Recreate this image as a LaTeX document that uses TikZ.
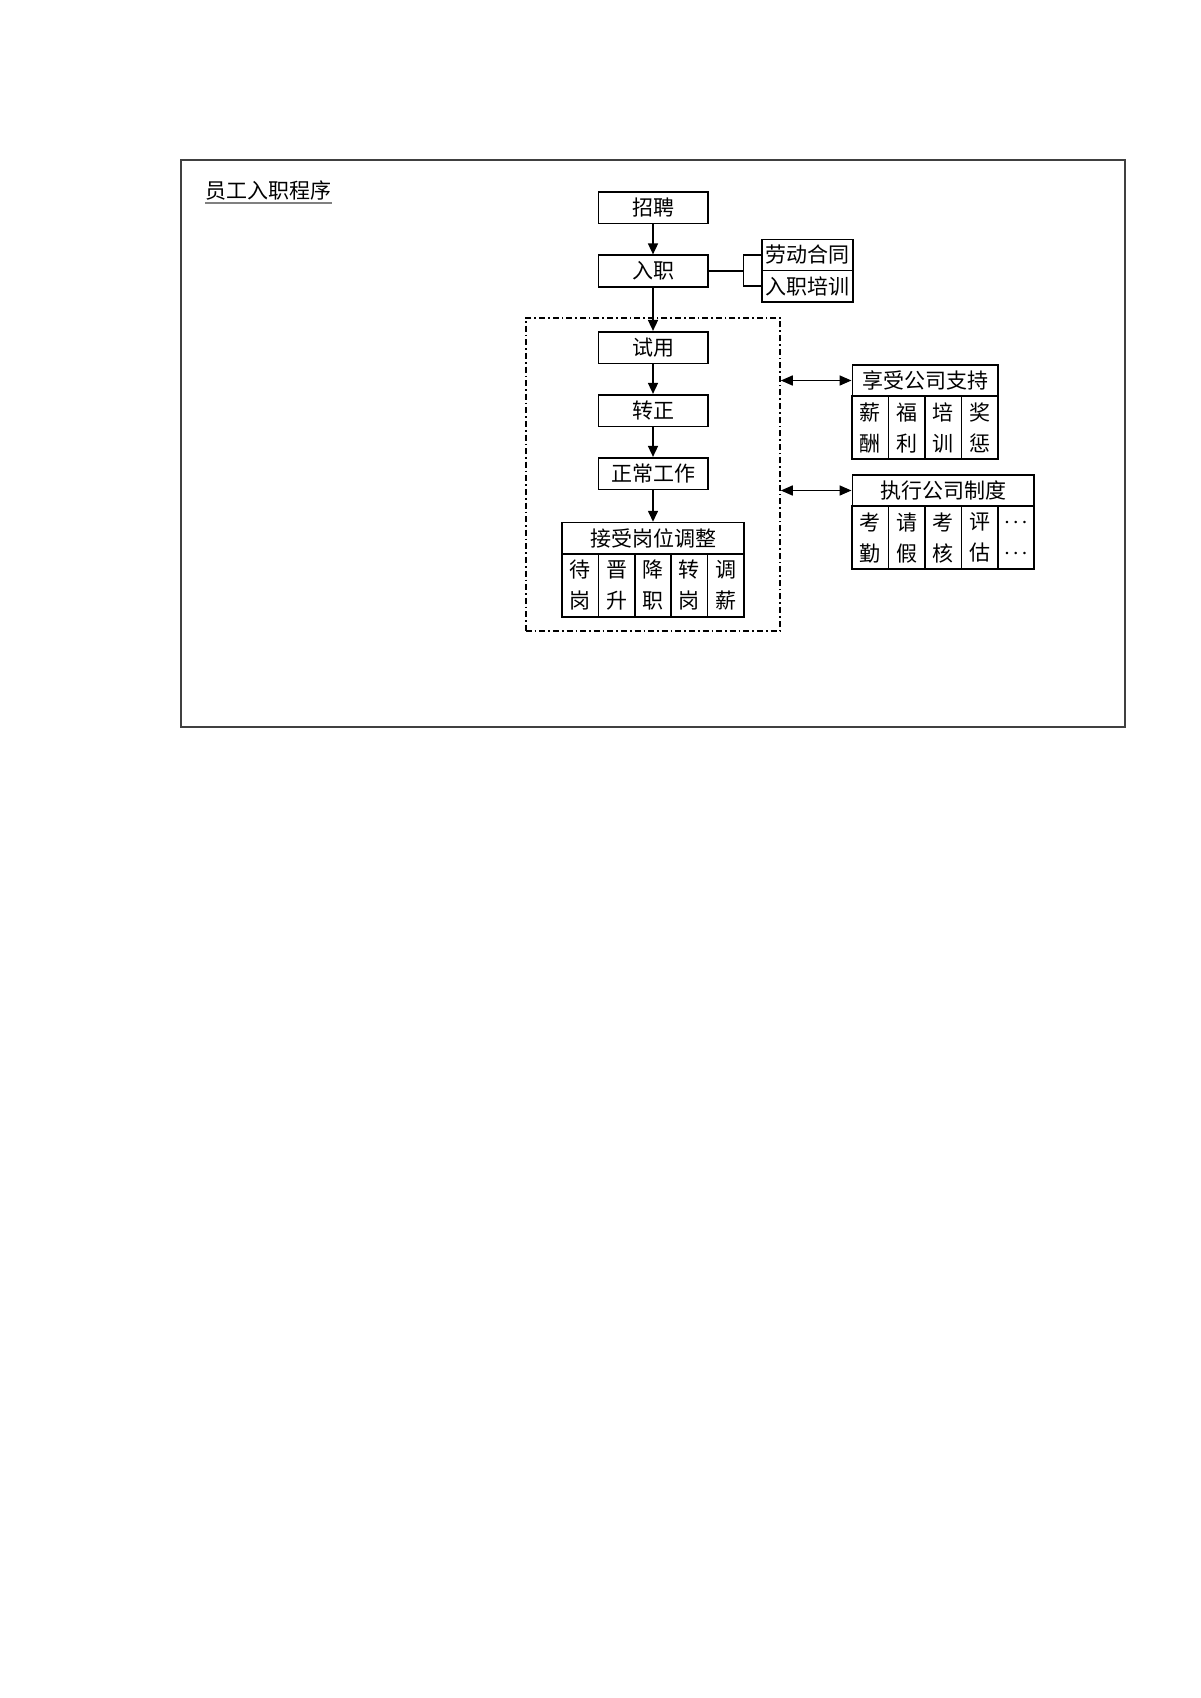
\documentclass[tikz,border=0pt]{standalone}
\usepackage{fontspec}
\newfontfamily\cjk{Noto Sans CJK SC}
\usetikzlibrary{arrows.meta}
\newcommand\dotsrow{{\fontsize{8pt}{9pt}\selectfont\boldmath$\cdots$}}
\tikzset{
  box/.style={draw, line width=0.8pt, inner sep=0pt, font=\cjk\fontsize{10.5pt}{15.5pt}\selectfont},
  flowbox/.style={box, minimum width=54.7pt, minimum height=15.8pt},
  sidebox/.style={box, minimum width=45.5pt, minimum height=15.6pt},
  headbox/.style={box, minimum height=15.6pt},
  cellbox/.style={box, minimum width=18.2pt, minimum height=31.6pt, align=center},
  link/.style={line width=0.8pt},
  arr/.style={link, -{Triangle[length=5.5pt,width=5pt]}},
  darr/.style={link, {Triangle[length=6pt,width=5pt]}-{Triangle[length=6pt,width=5pt]}}
}
\begin{document}
\begin{tikzpicture}[x=0.5pt,y=-0.5pt]
\useasboundingbox (0,0) rectangle (1200,1698);
\draw[line width=1pt, black!75] (181,160) rectangle (1125,726.7);
\node[anchor=base west, inner sep=0pt, font=\cjk\fontsize{10.5pt}{12pt}\selectfont] (title) at (205,198.5) {员工入职程序};
\draw[line width=1pt, black!50] ([yshift=-2pt]title.base west) -- ([yshift=-2pt]title.base east);
% main flow
\node[flowbox] (zp) at (653,207.5) {招聘};
\node[flowbox] (rz) at (653,271) {入职};
\node[flowbox] (sy) at (653,347.5) {试用};
\node[flowbox] (zz) at (653,410.5) {转正};
\node[flowbox] (zc) at (653,473.5) {正常工作};
\node[headbox, minimum width=91pt] (tz) at (653,538.15) {接受岗位调整};
\foreach \a/\b [count=\i] in {待/岗,晋/升,降/职,转/岗,调/薪}
  \node[cellbox, minimum height=31.35pt] (tz\i) at ({562+36.4*(\i-0.5)},585.35) {\a\\\b};
\node[draw, line width=0.8pt, dash pattern=on 3pt off 1.5pt on 0.8pt off 1.5pt,
  minimum width=127.15pt, minimum height=156.5pt] (trial) at (652.85,474.2) {};
\draw[arr] (zp) -- (rz);
\draw[arr] (rz) -- (sy);
\draw[arr] (sy) -- (zz);
\draw[arr] (zz) -- (zc);
\draw[arr] (zc) -- (tz);
% contract and training
\node[sidebox] (ldht) at (807.2,255) {劳动合同};
\node[sidebox] (rzpx) at (807.2,286.2) {入职培训};
\coordinate (brk) at (743.3,271);
\draw[link] (rz.east) -- (brk);
\draw[link] (ldht.west) -| (brk) |- (rzpx.west);
% company support
\node[headbox, minimum width=72.7pt] (xs) at (925,380.5) {享受公司支持};
\foreach \a/\b [count=\i] in {薪/酬,福/利,培/训,奖/惩}
  \node[cellbox] (xs\i) at ({852.3+36.35*(\i-0.5)},427.65) {\a\\\b};
% company rules
\node[headbox, minimum width=90.85pt] (zx) at (943.15,490.5) {执行公司制度};
\foreach \a/\b [count=\i] in {考/勤,请/假,考/核,评/估,\dotsrow/\dotsrow}
  \node[cellbox] (zx\i) at ({852.3+36.34*(\i-0.5)},537.65) {\a\\\b};
\draw[darr] (trial.east |- xs.west) -- (xs.west);
\draw[darr] (trial.east |- zx.west) -- (zx.west);
\end{tikzpicture}
\end{document}
